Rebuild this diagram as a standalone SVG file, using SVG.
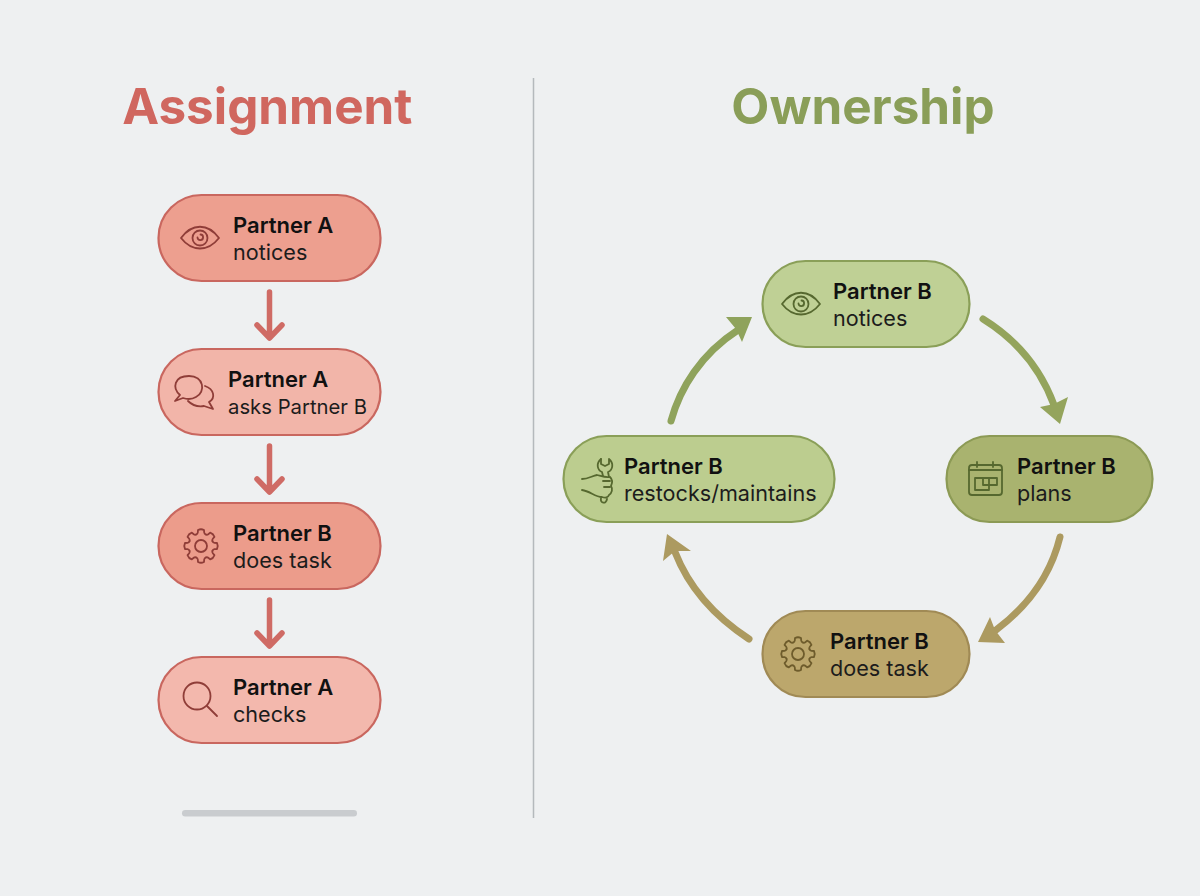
<svg xmlns="http://www.w3.org/2000/svg" width="1200" height="896" viewBox="0 0 1200 896">
<style>
.h{font:600 22px Inter,"Liberation Sans",sans-serif;fill:#111}
.s{font:400 21.6px Inter,"Liberation Sans",sans-serif;fill:#1c1c1c}
.t{font:700 49.400px Inter,"Liberation Sans",sans-serif;text-anchor:middle}
.i{fill:none;stroke-width:1.8;stroke-linecap:round;stroke-linejoin:round}
.r{stroke:#8f3d38}.g{stroke:#56682f}.o{stroke:#6e5c2c}
.n{stroke-width:2.2}
.a{fill:none;stroke-width:5.500;stroke-linecap:round;stroke-linejoin:round}
.c{fill:none;stroke-width:7;stroke-linecap:round}
</style>
<defs>
<g id="eye"><path d="M-19 0C-8-15 8-15 19 0C8 14-8 14-19 0Z"/><circle r="7.500"/><path d="M-2.500-.5A2.800 2.800 0 1 0 .5-3.500"/></g>
<g id="gear"><g id="t"><path id="u" d="M-4.800-11.500Q-3.400-12-3.200-13.500L-3-16Q0-17.500 3-16L3.200-13.500Q3.400-12 4.800-11.500"/><use href="#u" transform="rotate(45)"/><use href="#u" transform="rotate(90)"/><use href="#u" transform="rotate(135)"/></g><use href="#t" transform="rotate(180)"/><circle r="6"/></g>
</defs>
<rect width="1200" height="896" fill="#eef0f1"/>
<line x1="533.500" y1="78" x2="533.500" y2="818" stroke="#b4b9bc" stroke-width="1.500"/>
<text class="t" x="267.300" y="123.500" fill="#d0675f">Assignment</text>
<text class="t" x="863" y="123.500" fill="#8a9e58">Ownership</text>
<rect x="182" y="810" width="175" height="6.500" rx="3.200" fill="#c9cccf"/>
<g id="connectors">
<g stroke="#cf6b65"><path class="a" d="M269.500 292V336M257 325L269.500 338L282 325"/><path class="a" d="M269.500 446V490M257 479L269.500 492L282 479"/><path class="a" d="M269.500 600V644M257 633L269.500 646L282 633"/></g>
<path class="c" stroke="#8fa35c" d="M671 421C680 388 701 354 738 330"/>
<path fill="#8fa35c" d="M752 317L742 342L736 329L726 317Z"/>
<path class="c" stroke="#94a45c" d="M983 319C1017 340 1040 367 1054 405"/>
<path fill="#94a45c" d="M1060 424L1040 407L1054 404L1068 397Z"/>
<path class="c" stroke="#ac9a60" d="M1060 537C1051 574 1028 606 996 630"/>
<path fill="#ac9a60" d="M978 642L990 617L995 630L1005 643Z"/>
<path class="c" stroke="#ac9a60" d="M749 639C714 616 689 588 675 552"/>
<path fill="#ac9a60" d="M667 534L691 551L675 551L663 561Z"/>
</g>
<g id="a1"><rect class="n" x="158.500" y="195" width="222" height="86" rx="43" fill="#ed9f8f" stroke="#c9675f"/><use href="#eye" class="i r" transform="translate(200 238)"/><text class="h" x="233" y="233">Partner A</text><text class="s" x="233" y="260">notices</text></g>
<g id="a2"><rect class="n" x="158.500" y="349" width="222" height="86" rx="43" fill="#f2b5a9" stroke="#c9675f"/><g class="i r"><path d="M175 401L180 395C172 388 174 376 189 376C204 376 206 392 196 397C191 400 186 399 183 398Z"/><path d="M205 386C214 389 216 398 209 402L213 409L204 406C198 407 192 405 188 401"/></g><text class="h" x="228" y="387">Partner A</text><text class="s" x="228" y="414" style="font-size:20.300px">asks Partner B</text></g>
<g id="a3"><rect class="n" x="158.500" y="503" width="222" height="86" rx="43" fill="#ec9c8b" stroke="#c9675f"/><use href="#gear" class="i r" transform="translate(201 546)"/><text class="h" x="233" y="541">Partner B</text><text class="s" x="233" y="568">does task</text></g>
<g id="a4"><rect class="n" x="158.500" y="657" width="222" height="86" rx="43" fill="#f3b8ad" stroke="#c9675f"/><g class="i r"><circle cx="197" cy="696" r="13.500"/><path d="M207 706L217 716"/></g><text class="h" x="233" y="695">Partner A</text><text class="s" x="233" y="722">checks</text></g>
<g id="b1"><rect class="n" x="762.500" y="261" width="207" height="86" rx="43" fill="#bfd095" stroke="#8a9f58"/><use href="#eye" class="i g" transform="translate(801 304)"/><text class="h" x="833" y="299">Partner B</text><text class="s" x="833" y="326">notices</text></g>
<g id="b2"><rect class="n" x="946.500" y="436" width="206" height="86" rx="43" fill="#a9b36f" stroke="#8c9a55"/><g class="i g"><rect x="969" y="465" width="33" height="30" rx="3"/><path d="M969 470H1002M977 462V467M993 462V467"/><rect x="975" y="478" width="14" height="12"/><rect x="983" y="478" width="14" height="7"/></g><text class="h" x="1017" y="474">Partner B</text><text class="s" x="1017" y="501">plans</text></g>
<g id="b3"><rect class="n" x="762.500" y="611" width="207" height="86" rx="43" fill="#bca76c" stroke="#a08a55"/><use href="#gear" class="i o" transform="translate(798 654)"/><text class="h" x="830" y="649">Partner B</text><text class="s" x="830" y="676">does task</text></g>
<g id="b4"><rect class="n" x="563.500" y="436" width="271" height="86" rx="43" fill="#bccd8f" stroke="#8a9f58"/><g class="i g"><path d="M601 459C596 463 597 470 602 472L603 476"/><path d="M601 459L601 464L605 466L609 464L609 459C614 463 613 470 608 472L609 477"/><path d="M582 479C588 479 592 476 597 475C601 476 606 478 610 477C613 480 612 484 611 486C613 489 612 493 609 495C608 498 605 498 602 497C595 497 590 491 582 490"/><path d="M603 481H610M604 487H610M601 498C600 503 606 505 607 499"/></g><text class="h" x="624" y="474">Partner B</text><text class="s" x="624" y="501">restocks/maintains</text></g>
</svg>
